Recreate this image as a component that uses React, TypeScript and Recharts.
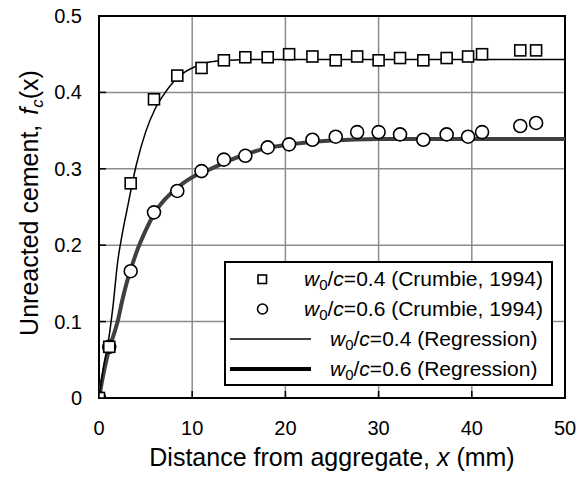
import { ComposedChart, Line, Scatter, XAxis, YAxis, CartesianGrid, ReferenceArea, Legend } from 'recharts';

const FONT = "'Liberation Sans', Arial, sans-serif";

// measured points (Crumbie, 1994)
const xCrumbie = [0, 1.1, 3.4, 5.9, 8.4, 11.0, 13.4, 15.7, 18.1, 20.4, 22.9, 25.4, 27.7, 30.0, 32.3, 34.8, 37.3, 39.6, 41.1, 45.2, 46.9];
const w04Crumbie = [0, 0.067, 0.281, 0.391, 0.422, 0.432, 0.442, 0.446, 0.446, 0.45, 0.447, 0.442, 0.447, 0.442, 0.445, 0.442, 0.445, 0.447, 0.45, 0.455, 0.455];
const w06Crumbie = [0, 0.067, 0.166, 0.243, 0.271, 0.297, 0.312, 0.317, 0.328, 0.332, 0.338, 0.342, 0.348, 0.348, 0.345, 0.338, 0.345, 0.342, 0.348, 0.356, 0.36];

// regression curves
const xReg = [0, 0.5, 1, 1.5, 2, 2.5, 3, 4, 5, 6, 7, 8, 9, 10, 11, 12, 14, 16, 18, 20, 22, 25, 30, 40, 50];
const w04Reg = [0, 0.042, 0.074, 0.12, 0.178, 0.215, 0.246, 0.305, 0.348, 0.378, 0.398, 0.414, 0.425, 0.432, 0.437, 0.44, 0.442, 0.443, 0.443, 0.443, 0.443, 0.443, 0.443, 0.443, 0.443];
const w06Reg = [0, 0.033, 0.06, 0.08, 0.1, 0.128, 0.152, 0.19, 0.219, 0.243, 0.259, 0.271, 0.281, 0.289, 0.295, 0.3, 0.311, 0.32, 0.327, 0.331, 0.334, 0.337, 0.339, 0.339, 0.339];

const xTicks = [0, 10, 20, 30, 40, 50];
const yTicks = [0, 0.1, 0.2, 0.3, 0.4, 0.5];

const pts = (xs: number[], ys: number[]) => xs.map((x, i) => ({ x, y: ys[i] }));

const sq04 = pts(xCrumbie, w04Crumbie);
const ci06 = pts(xCrumbie, w06Crumbie);
const reg04 = pts(xReg, w04Reg);
const reg06 = pts(xReg, w06Reg);

const SquareMark = ({ cx, cy }: any) => (
  <rect x={cx - 5.5} y={cy - 5.5} width={11} height={11} fill="#fff" stroke="#000" strokeWidth={1.6} />
);
const CircleMark = ({ cx, cy }: any) => (
  <circle cx={cx} cy={cy} r={6.5} fill="#fff" stroke="#000" strokeWidth={1.6} />
);

const YTick = ({ x, y, payload }: any) => (
  <g>
    <line x1={x + 17} x2={x + 24} y1={y} y2={y} stroke="#000" strokeWidth={1.5} />
    <text x={x} y={y} dy={7} textAnchor="end" fontSize={20} fontFamily={FONT} fill="#000">
      {payload.value === 0 ? '0' : payload.value.toFixed(1)}
    </text>
  </g>
);

const XTick = ({ x, y, payload }: any) => (
  <g>
    <line x1={x} x2={x} y1={y - 37} y2={y - 44} stroke="#000" strokeWidth={1.5} />
    <text x={x} y={y} textAnchor="middle" fontSize={20} fontFamily={FONT} fill="#000">
      {payload.value}
    </text>
  </g>
);

const YLabel = ({ viewBox }: any) => {
  const cx = viewBox.x + 38;
  const cy = viewBox.y + viewBox.height / 2 - 4;
  return (
    <text x={cx} y={cy} transform={`rotate(-90 ${cx} ${cy})`} textAnchor="middle" fontSize={25} fontFamily={FONT} fill="#000">
      Unreacted cement,
      <tspan fontStyle="italic" dx={10}>f</tspan>
      <tspan fontStyle="italic" fontSize={17} dy={5}>c</tspan>
      <tspan dy={-5}>(x)</tspan>
    </text>
  );
};

const XLabel = ({ viewBox }: any) => (
  <text x={viewBox.x + viewBox.width / 2} y={viewBox.y + 68} textAnchor="middle" fontSize={25} fontFamily={FONT} fill="#000">
    Distance from aggregate, <tspan fontStyle="italic">x</tspan> (mm)
  </text>
);

const Wc = ({ v, tail }: { v: string; tail: string }) => (
  <span>
    <i>w</i>
    <span style={{ fontSize: 15, position: 'relative', top: 4 }}>0</span>/<i>c</i>={v} {tail}
  </span>
);

const rowTop = [18, 48, 78, 108];

const LegendBox = () => (
  <div
    style={{
      position: 'relative',
      width: 329,
      height: 125,
      boxSizing: 'border-box',
      border: '2px solid #000',
      background: '#fff',
      fontFamily: FONT,
      fontSize: 21,
      color: '#000',
      lineHeight: '21px',
    }}
  >
    <svg width={329} height={125} style={{ position: 'absolute', left: -2, top: -2 }}>
      <rect x={34} y={rowTop[0] - 4} width={8.5} height={8.5} fill="#fff" stroke="#000" strokeWidth={1.6} />
      <circle cx={38.5} cy={rowTop[1]} r={5} fill="#fff" stroke="#000" strokeWidth={1.6} />
      <line x1={6} x2={87} y1={rowTop[2]} y2={rowTop[2]} stroke="#000" strokeWidth={1.5} />
      <line x1={6} x2={87} y1={rowTop[3]} y2={rowTop[3]} stroke="#000" strokeWidth={4} />
    </svg>
    <div style={{ position: 'absolute', left: 78, top: rowTop[0] - 13, whiteSpace: 'nowrap' }}>
      <Wc v="0.4" tail="(Crumbie, 1994)" />
    </div>
    <div style={{ position: 'absolute', left: 78, top: rowTop[1] - 13, whiteSpace: 'nowrap' }}>
      <Wc v="0.6" tail="(Crumbie, 1994)" />
    </div>
    <div style={{ position: 'absolute', left: 104, top: rowTop[2] - 13, whiteSpace: 'nowrap' }}>
      <Wc v="0.4" tail="(Regression)" />
    </div>
    <div style={{ position: 'absolute', left: 104, top: rowTop[3] - 13, whiteSpace: 'nowrap' }}>
      <Wc v="0.6" tail="(Regression)" />
    </div>
  </div>
);

export default function App() {
  return (
    <div style={{ position: 'absolute', left: 0, top: 0, width: 579, height: 477, background: '#fff' }}>
      <ComposedChart width={579} height={477} margin={{ top: 16, right: 14, bottom: 0, left: 0 }}>
        <CartesianGrid stroke="#8c8c8c" strokeWidth={1.5} horizontalValues={yTicks} verticalValues={xTicks} />
        <XAxis
          type="number"
          dataKey="x"
          domain={[0, 50]}
          ticks={xTicks}
          height={79}
          axisLine={false}
          tickLine={false}
          tickSize={0}
          tickMargin={37}
          tick={<XTick />}
          label={{ content: <XLabel /> }}
          allowDataOverflow
        />
        <YAxis
          type="number"
          dataKey="y"
          domain={[0, 0.5]}
          ticks={yTicks}
          width={99}
          axisLine={false}
          tickLine={false}
          tickSize={0}
          tickMargin={17}
          tick={<YTick />}
          label={{ content: <YLabel /> }}
          allowDataOverflow
        />
        <ReferenceArea x1={0} x2={50} y1={0} y2={0.5} fill="none" stroke="#000" strokeWidth={2} fillOpacity={0} />
        <Line data={reg06} dataKey="y" type="monotone" stroke="#404040" strokeWidth={4} dot={false} isAnimationActive={false} legendType="none" />
        <Line data={reg04} dataKey="y" type="monotone" stroke="#000" strokeWidth={1.5} dot={false} isAnimationActive={false} legendType="none" />
        <Scatter data={ci06} dataKey="y" shape={<CircleMark />} isAnimationActive={false} legendType="none" />
        <Scatter data={sq04} dataKey="y" shape={<SquareMark />} isAnimationActive={false} legendType="none" />
        <Legend
          layout="horizontal"
          verticalAlign="middle"
          align="center"
          content={<LegendBox />}
          wrapperStyle={{ left: 224, top: 261, width: 329, height: 125 }}
        />
      </ComposedChart>
    </div>
  );
}
